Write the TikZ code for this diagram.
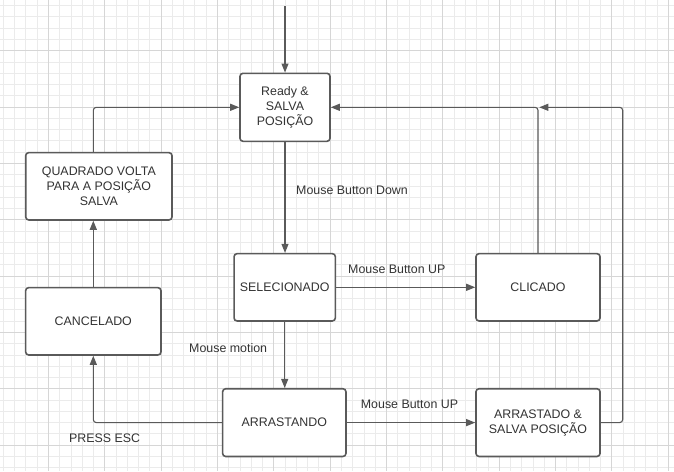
\documentclass[tikz,border=0pt]{standalone}
\usepackage{fontspec}
\setmainfont{Liberation Sans}
\usetikzlibrary{arrows.meta,positioning}
\definecolor{linegray}{HTML}{5A5A5A}
\definecolor{textgray}{HTML}{333333}
\definecolor{minorgray}{HTML}{EBEBEB}
\definecolor{majorgray}{HTML}{D6D6D6}

\begin{document}
\begin{tikzpicture}[x=1pt,y=-1pt,
  state/.style={draw=linegray, line width=1.6pt, rounded corners=3pt, fill=white,
    inner sep=0pt, align=center, text=textgray, font=\fontsize{12.4}{15}\selectfont},
  lbl/.style={anchor=west, inner sep=0pt, text=textgray, font=\fontsize{12.4}{15}\selectfont},
  flow/.style={draw=linegray, line width=1.1pt, rounded corners=3pt,
    -{Triangle[length=9pt,width=7pt]}}]
  \useasboundingbox[fill=white] (0,0) rectangle (674,471);
  % background grid
  \foreach \i [evaluate=\i as \gx using 3.3+\i*11.27] in {0,...,59}
    \draw[minorgray, line width=0.8pt] (\gx,0) -- (\gx,471);
  \foreach \i [evaluate=\i as \gy using 5.6+\i*11.27] in {0,...,41}
    \draw[minorgray, line width=0.8pt] (0,\gy) -- (674,\gy);
  \foreach \i [evaluate=\i as \gx using 48.3+\i*56.35] in {0,...,11}
    \draw[majorgray, line width=0.9pt] (\gx,0) -- (\gx,471);
  \foreach \i [evaluate=\i as \gy using 50.7+\i*56.35] in {0,...,7}
    \draw[majorgray, line width=0.9pt] (0,\gy) -- (674,\gy);

  % states
  \node[state, minimum width=90pt, minimum height=68pt] (ready) at (285,107.3) {Ready \&\\SALVA\\POSIÇÃO};
  \node[state, minimum width=146.3pt, minimum height=67.3pt] (quadrado) at (98.85,186.3) {QUADRADO VOLTA\\PARA A POSIÇÃO\\SALVA};
  \node[state, minimum width=135.3pt, minimum height=67.3pt] (cancelado) at (93.3,321.3) {CANCELADO};
  \node[state, minimum width=101.3pt, minimum height=67.3pt] (selecionado) at (284.7,287.3) {SELECIONADO};
  \node[state, minimum width=124pt, minimum height=67.3pt] (clicado) at (538,287.3) {CLICADO};
  \node[state, minimum width=123.3pt, minimum height=67.7pt] (arrastando) at (284.3,422.6) {ARRASTANDO};
  \node[state, minimum width=124pt, minimum height=67.7pt] (arrastado) at (538,422.6) {ARRASTADO \&\\SALVA POSIÇÃO};

  \coordinate (entry) at (285,6);
  \coordinate (turn) at (622.7,107.3);
  \coordinate (join) at (539.3,107.3);

  % transitions
  \draw[flow] (entry) -- (ready);
  \draw[flow] (ready.south) -- (ready.south |- selecionado.north);
  \draw[flow] (selecionado) -- (clicado);
  \draw[flow] (clicado) |- (ready);
  \draw[flow] (selecionado.south) -- (selecionado.south |- arrastando.north);
  \draw[flow] (arrastando) -- (arrastado);
  \draw[flow] (arrastado) -| (turn) -- (join);
  \draw[flow] (arrastando) -| (cancelado);
  \draw[flow] (cancelado) -- (cancelado |- quadrado.south);
  \draw[flow] (quadrado.north -| cancelado) |- (ready);

  % labels
  \node[lbl] (down) at (296,190) {Mouse Button Down};
  \node[lbl] (upclick) at (348,269) {Mouse Button UP};
  \node[lbl] (motion) at (189,348) {Mouse motion};
  \node[lbl] (updrag) at (360.7,404.7) {Mouse Button UP};
  \node[lbl] (esc) at (69,438.7) {PRESS ESC};
\end{tikzpicture}
\end{document}
